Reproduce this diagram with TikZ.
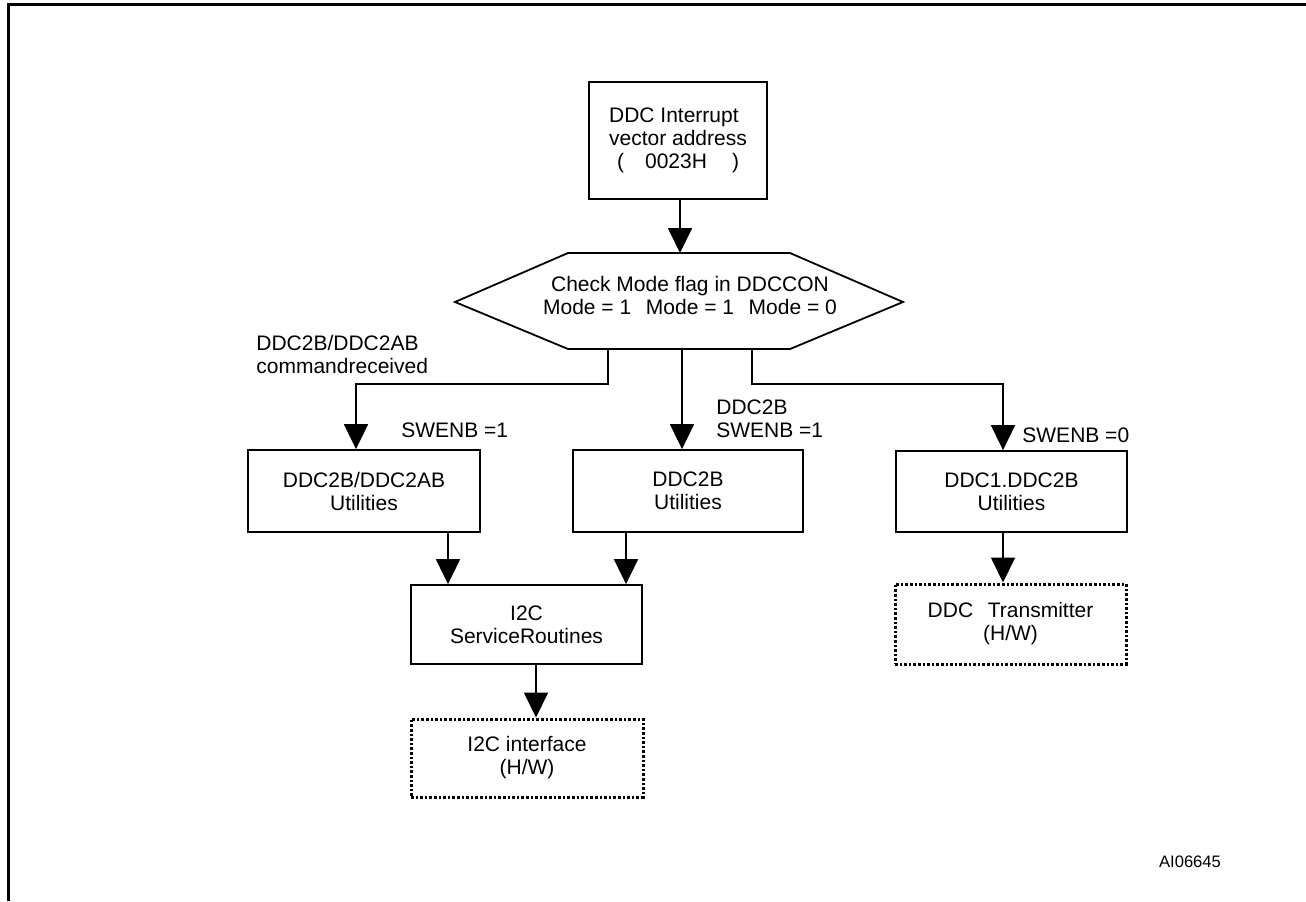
\documentclass[tikz,border=0pt]{standalone}
\usepackage{fontspec}
\setmainfont{Liberation Sans}
\usetikzlibrary{arrows.meta}
\tikzset{
  every node/.style={font=\fontsize{10.5}{11.5}\selectfont},
  box/.style={draw,line width=0.9pt,align=center,inner sep=0pt,minimum width=115.5pt,minimum height=40pt},
  hwbox/.style={box,line width=1.5pt,dash pattern=on 1.3pt off 1pt},
  lbl/.style={align=left,anchor=west,inner sep=0pt},
  arr/.style={line width=0.9pt,-{Triangle[width=12pt,length=12.5pt]}},
}
\begin{document}
\begin{tikzpicture}[x=0.5pt,y=-0.5pt]
\useasboundingbox (0,0) rectangle (1306,901);
% frame
\draw[line width=1.5pt] (8.8,901) -- (8.8,4.5) -- (1306,4.5);
% vector box
\node[box,align=left,minimum width=89pt,minimum height=58.5pt] (vec) at (678,140.5)
  {DDC Interrupt\\vector address\\\hspace*{4pt}(\hspace{1em}0023H\hspace{1.2em})};
% mode check
\draw[line width=0.9pt] (455,302) -- (568,253) -- (790,253) -- (903,302) -- (790,349) -- (568,349) -- cycle;
\node[align=center,inner sep=0pt] (chk) at (690,295)
  {Check Mode flag in DDCCON\\Mode = 1\hspace{0.7em}Mode = 1\hspace{0.7em}Mode = 0};
\coordinate (ht) at (680,253);
\coordinate (hl) at (608,349);
\coordinate (hm) at (682,349);
\coordinate (hr) at (752,349);
% utilities
\node[box,minimum width=116pt,minimum height=41pt] (ua) at (364,491) {DDC2B/DDC2AB\\Utilities};
\node[box,minimum width=115pt,minimum height=41pt] (ub) at (688,491) {DDC2B\\Utilities};
\node[box,minimum width=115.5pt,minimum height=40.5pt] (uc) at (1011.5,491.5) {DDC1.DDC2B\\Utilities};
% service / hardware
\node[box,minimum width=115.5pt,minimum height=39.5pt] (i2c) at (526.5,624.5) {I2C\\ServiceRoutines};
\node[hwbox,minimum width=116pt,minimum height=39pt] (ifc) at (527,758) {I2C interface\\(H/W)};
\node[hwbox,minimum width=115.5pt,minimum height=40pt] (tx) at (1010.5,624) {DDC\hspace{0.7em}Transmitter\\(H/W)};
% labels
\node[lbl] (lcmd) at (256,354) {DDC2B/DDC2AB\\commandreceived};
\node[lbl] (lsa) at (401,430) {SWENB =1};
\node[lbl] (lsb) at (716,419) {DDC2B\\SWENB =1};
\node[lbl] (lsc) at (1022,435) {SWENB =0};
\node[font=\fontsize{8.3}{10}\selectfont] (id) at (1190,862) {AI06645};
% arrows
\draw[arr] (vec.south -| ht) -- (ht);
\draw[arr] (hl) -- ++(0,35) -| ([xshift=-4pt]ua.north);
\draw[arr] (hm) -- (hm |- ub.north);
\draw[arr] (hr) -- ++(0,35) -| ([xshift=-4.25pt]uc.north);
\coordinate (a1) at (448,532);
\coordinate (b1) at (626,532);
\coordinate (s1) at (536,664);
\coordinate (c1) at (1003,532);
\draw[arr] (a1) -- (a1 |- i2c.north);
\draw[arr] (b1) -- (b1 |- i2c.north);
\draw[arr] (s1) -- (s1 |- ifc.north);
\draw[arr] (c1) -- (c1 |- tx.north);
\end{tikzpicture}
\end{document}
